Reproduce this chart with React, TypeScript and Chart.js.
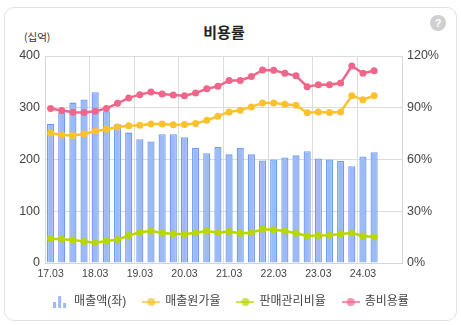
import React, { useEffect, useRef } from "react";
import { Chart, registerables } from "chart.js";

Chart.register(...registerables);

const labels = [
  "17.03", "17.06", "17.09", "17.12",
  "18.03", "18.06", "18.09", "18.12",
  "19.03", "19.06", "19.09", "19.12",
  "20.03", "20.06", "20.09", "20.12",
  "21.03", "21.06", "21.09", "21.12",
  "22.03", "22.06", "22.09", "22.12",
  "23.03", "23.06", "23.09", "23.12",
  "24.03", "24.06", "24.09", "24.12",
];

const sales = [269, 291, 310, 316, 330, 293, 268, 252, 239, 235, 249, 249, 243, 222, 212, 224, 210, 222, 210, 198, 200, 204, 208, 216, 202, 200, 197, 187, 206, 214];
const costRatio = [75.4, 74.2, 73.9, 74.8, 76.5, 77.5, 78.8, 79.6, 79.8, 80.6, 80.6, 80.2, 80.3, 80.9, 82.7, 85.1, 87.6, 88.6, 90.5, 92.8, 92.8, 92.0, 91.5, 87.1, 87.6, 87.3, 87.6, 97.0, 94.7, 97.0];
const sgaRatio = [14.0, 13.8, 13.4, 12.5, 11.7, 12.8, 13.6, 15.9, 17.8, 18.5, 17.4, 17.0, 16.7, 17.6, 18.6, 17.6, 18.2, 17.2, 17.6, 19.5, 19.3, 18.6, 17.2, 15.7, 15.9, 16.1, 16.8, 17.4, 15.7, 15.1];
const totalRatio = [89.6, 88.4, 87.4, 87.3, 88.0, 89.6, 92.6, 95.7, 97.6, 99.1, 98.0, 97.4, 97.0, 98.5, 101.0, 102.4, 105.8, 105.8, 108.1, 111.9, 111.8, 110.0, 108.5, 102.2, 103.3, 103.3, 104.3, 114.2, 110.0, 111.5];

const leftTicks = [0, 100, 200, 300, 400];
const rightTicks = [0, 30, 60, 90, 120];

const seriesNames = ["매출액(좌)", "매출원가율", "판매관리비율", "총비용률"];

const BAR_FILL = "#9dbaf7";
const BAR_BORDER = "#6f9cf4";
const YELLOW = "#fcc22d";
const GREEN = "#b9d600";
const PINK = "#f0668b";

const FONT = "'Liberation Sans', 'Noto Sans CJK KR', sans-serif";

function barIcon(): HTMLCanvasElement {
  const c = document.createElement("canvas");
  c.width = 14;
  c.height = 12;
  const ctx = c.getContext("2d")!;
  ctx.fillStyle = "rgba(140,176,246,0.85)";
  ctx.fillRect(0, 6, 3, 6);
  ctx.fillRect(5, 0, 3, 12);
  ctx.fillRect(10, 7, 3, 5);
  return c;
}

function lineIcon(color: string): HTMLCanvasElement {
  const c = document.createElement("canvas");
  c.width = 18;
  c.height = 10;
  const ctx = c.getContext("2d")!;
  ctx.globalAlpha = 0.7;
  ctx.strokeStyle = color;
  ctx.lineWidth = 2;
  ctx.beginPath();
  ctx.moveTo(0, 5);
  ctx.lineTo(18, 5);
  ctx.stroke();
  ctx.fillStyle = color;
  ctx.beginPath();
  ctx.arc(9, 5, 4, 0, Math.PI * 2);
  ctx.fill();
  return c;
}

export default function App() {
  const ref = useRef<HTMLCanvasElement | null>(null);

  useEffect(() => {
    if (!ref.current) return;
    const icons = [barIcon(), lineIcon(YELLOW), lineIcon(GREEN), lineIcon(PINK)];
    const lineDs = (label: string, data: number[], color: string, order: number) => ({
      type: "line" as const,
      label,
      data,
      yAxisID: "y1",
      borderColor: color,
      backgroundColor: color,
      borderWidth: 2.5,
      pointRadius: 3.5,
      pointBorderWidth: 0,
      pointBackgroundColor: color,
      tension: 0,
      order,
    });
    const chart = new Chart(ref.current, {
      type: "bar",
      data: {
        labels,
        datasets: [
          {
            type: "bar",
            label: seriesNames[0],
            data: sales,
            yAxisID: "y",
            backgroundColor: BAR_FILL,
            borderColor: BAR_BORDER,
            borderWidth: 1.3,
            barPercentage: 0.8,
            categoryPercentage: 0.8,
            order: 10,
          },
          lineDs(seriesNames[1], costRatio, YELLOW, 3),
          lineDs(seriesNames[2], sgaRatio, GREEN, 2),
          lineDs(seriesNames[3], totalRatio, PINK, 1),
        ] as any,
      },
      options: {
        responsive: false,
        devicePixelRatio: 1,
        animation: false,
        layout: { padding: { top: 56, left: 0, right: 0, bottom: 7 } },
        plugins: {
          title: { display: false },
          tooltip: { enabled: false },
          legend: {
            position: "bottom",
            labels: {
              usePointStyle: true,
              pointStyleWidth: 16,
              padding: 17,
              color: "#444",
              font: { size: 12, family: FONT },
              generateLabels: () =>
                seriesNames.map((t, i) => ({
                  text: t,
                  datasetIndex: i,
                  pointStyle: icons[i] as any,
                  fillStyle: "transparent",
                  strokeStyle: "transparent",
                  lineWidth: 0,
                  hidden: false,
                  fontColor: "#444",
                })),
            },
          },
        },
        scales: {
          x: {
            grid: {
              offset: true,
              drawTicks: false,
              color: (ctx: any) => (ctx.index % 4 === 0 ? "#dcdcdc" : "rgba(0,0,0,0)"),
              lineWidth: 1,
            },
            border: { display: true, color: "#d6d6d6" },
            ticks: {
              autoSkip: false,
              maxRotation: 0,
              minRotation: 0,
              padding: 5,
              color: "#444",
              font: { size: 10.5, family: FONT },
              callback: (_v: any, i: number) => (i % 4 === 0 ? labels[i] : ""),
            },
            afterFit: (s: any) => {
              s.height = 16;
            },
          },
          y: {
            position: "left",
            min: 0,
            max: 400,
            afterBuildTicks: (s: any) => {
              s.ticks = leftTicks.map((v) => ({ value: v }));
            },
            grid: { color: "#dcdcdc", drawTicks: false },
            border: { display: true, color: "#d6d6d6" },
            ticks: {
              padding: 5,
              color: "#444",
              font: { size: 12.5, family: FONT },
            },
            afterFit: (s: any) => {
              s.width = 45;
            },
          },
          y1: {
            position: "right",
            min: 0,
            max: 120,
            afterBuildTicks: (s: any) => {
              s.ticks = rightTicks.map((v) => ({ value: v }));
            },
            grid: { display: false, drawTicks: false },
            border: { display: true, color: "#d6d6d6" },
            ticks: {
              padding: 5,
              color: "#444",
              font: { size: 12.5, family: FONT },
              callback: (v: any) => v + "%",
            },
            afterFit: (s: any) => {
              s.width = 59;
            },
          },
        },
      } as any,
    });
    return () => chart.destroy();
  }, []);

  return (
    <div style={{ position: "fixed", left: 0, top: 0, width: 461, height: 325, background: "#fff", fontFamily: FONT }}>
      <div
        style={{
          position: "absolute",
          left: 4,
          top: 7,
          width: 451,
          height: 312,
          border: "1px solid #e2e2e2",
          borderRadius: 10,
          background: "#fff",
        }}
      />
      <div
        style={{
          position: "absolute",
          left: 0,
          width: 448,
          top: 22,
          textAlign: "center",
          fontSize: 15,
          fontWeight: "bold",
          color: "#222",
          fontFamily: "'Noto Sans CJK KR', sans-serif",
          lineHeight: "20px",
        }}
      >
        비용률
      </div>
      <div
        style={{
          position: "absolute",
          left: 24,
          top: 30,
          fontSize: 10.5,
          color: "#333",
          fontFamily: "'Noto Sans CJK KR', sans-serif",
          lineHeight: "14px",
        }}
      >
        (십억)
      </div>
      <div
        style={{
          position: "absolute",
          left: 430,
          top: 15,
          width: 16,
          height: 16,
          borderRadius: 8,
          background: "#cfcfcf",
          color: "#fff",
          fontSize: 11,
          fontWeight: "bold",
          textAlign: "center",
          lineHeight: "16px",
        }}
      >
        ?
      </div>
      <canvas ref={ref} width={461} height={325} style={{ position: "absolute", left: 0, top: 0 }} />
    </div>
  );
}
